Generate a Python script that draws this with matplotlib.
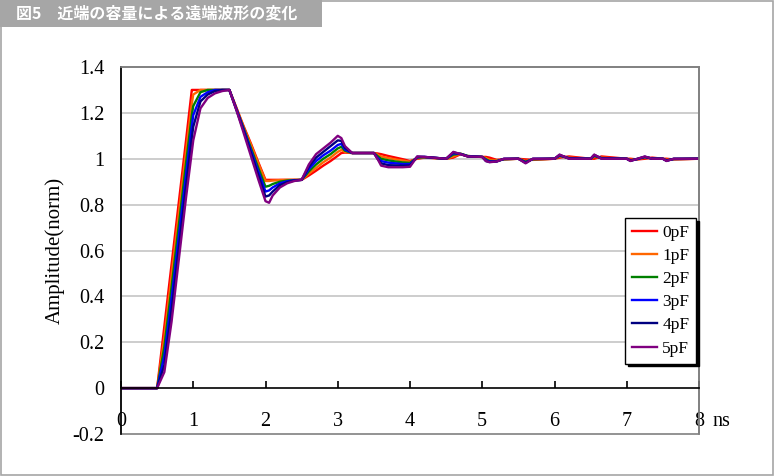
import matplotlib
matplotlib.use("Agg")
import matplotlib.pyplot as plt
from matplotlib.patches import Rectangle

# time axis (ns), shared by all series
t_ns = [0, 0.5, 0.6, 0.7, 0.8, 0.9, 0.98, 1.0, 1.1, 1.2,
        1.3, 1.4, 1.5, 1.6, 1.7, 1.8, 1.9, 2.0, 2.05, 2.1,
        2.2, 2.3, 2.4, 2.5, 2.6, 2.7, 2.8, 2.9, 3.0, 3.05,
        3.1, 3.2, 3.5, 3.55, 3.6, 3.7, 3.8, 3.9, 4.0, 4.1,
        4.2, 4.5, 4.6, 4.7, 4.8, 5.0, 5.05, 5.1, 5.2, 5.3,
        5.5, 5.6, 5.7, 6.0, 6.07, 6.2, 6.5, 6.55, 6.65, 7.0,
        7.05, 7.15, 7.25, 7.35, 7.5, 7.55, 7.65, 8.0]

amp_0pf = [0, 0, 0.27, 0.54, 0.81, 1.08, 1.30, 1.30, 1.30, 1.30,
           1.30, 1.30, 1.30, 1.22, 1.14, 1.065, 0.985, 0.908, 0.908, 0.908,
           0.908, 0.908, 0.908, 0.908, 0.927, 0.948, 0.97, 0.99, 1.013, 1.025,
           1.027, 1.025, 1.025, 1.023, 1.02, 1.012, 1.005, 0.998, 0.99, 1.0,
           1.005, 1.0, 1.005, 1.02, 1.01, 1.008, 1.008, 1.005, 0.995, 0.997,
           1.0, 0.997, 0.995, 1.0, 1.005, 1.01, 1.0, 1.0, 1.01, 1.0,
           1.0, 0.997, 1.0, 1.005, 1.0, 1.0, 0.997, 1.0]
amp_1pf = [0, 0, 0.22, 0.49, 0.76, 1.03, 1.24, 1.28, 1.30, 1.30,
           1.30, 1.30, 1.30, 1.22, 1.135, 1.06, 0.98, 0.903, 0.903, 0.905,
           0.907, 0.908, 0.908, 0.908, 0.935, 0.96, 0.985, 1.005, 1.03, 1.038,
           1.03, 1.025, 1.025, 1.018, 1.01, 1.003, 0.997, 0.992, 0.987, 1.002,
           1.006, 1.0, 1.01, 1.022, 1.012, 1.008, 1.003, 0.995, 0.993, 0.998,
           1.0, 0.99, 0.997, 1.0, 1.01, 1.005, 1.0, 1.008, 1.005, 1.0,
           0.995, 0.998, 1.005, 1.002, 1.0, 0.995, 0.998, 1.0]
amp_2pf = [0, 0, 0.18, 0.44, 0.71, 0.98, 1.19, 1.23, 1.29, 1.30,
           1.30, 1.30, 1.30, 1.215, 1.13, 1.045, 0.96, 0.878, 0.882, 0.89,
           0.90, 0.905, 0.907, 0.908, 0.945, 0.975, 1.0, 1.02, 1.045, 1.052,
           1.035, 1.025, 1.025, 1.012, 1.0, 0.993, 0.988, 0.984, 0.982, 1.005,
           1.007, 1.0, 1.018, 1.022, 1.012, 1.008, 0.998, 0.99, 0.99, 0.998,
           1.0, 0.987, 0.998, 1.0, 1.013, 1.003, 1.0, 1.012, 1.003, 1.0,
           0.993, 0.999, 1.007, 1.001, 1.0, 0.993, 0.999, 1.0]
amp_3pf = [0, 0, 0.14, 0.39, 0.66, 0.93, 1.14, 1.19, 1.27, 1.29,
           1.30, 1.30, 1.30, 1.215, 1.125, 1.035, 0.945, 0.857, 0.862, 0.875,
           0.893, 0.902, 0.906, 0.908, 0.955, 0.99, 1.015, 1.035, 1.06, 1.065,
           1.04, 1.025, 1.025, 1.005, 0.99, 0.983, 0.98, 0.977, 0.977, 1.007,
           1.008, 1.0, 1.024, 1.021, 1.011, 1.008, 0.994, 0.988, 0.989, 0.999,
           1.0, 0.984, 0.999, 1.0, 1.015, 1.002, 1.0, 1.015, 1.002, 1.0,
           0.992, 0.999, 1.008, 1.001, 1.0, 0.992, 0.999, 1.0]
amp_4pf = [0, 0, 0.10, 0.34, 0.61, 0.88, 1.09, 1.14, 1.25, 1.28,
           1.295, 1.30, 1.30, 1.21, 1.12, 1.025, 0.93, 0.835, 0.84, 0.857,
           0.885, 0.898, 0.905, 0.908, 0.965, 1.005, 1.03, 1.055, 1.08, 1.078,
           1.048, 1.025, 1.025, 1.0, 0.98, 0.972, 0.971, 0.97, 0.971, 1.009,
           1.008, 1.0, 1.028, 1.02, 1.01, 1.008, 0.99, 0.986, 0.988, 1.0,
           1.0, 0.982, 1.0, 1.0, 1.017, 1.001, 1.0, 1.017, 1.001, 1.0,
           0.991, 1.0, 1.009, 1.0, 1.0, 0.991, 1.0, 1.0]
amp_5pf = [0, 0, 0.07, 0.29, 0.56, 0.83, 1.03, 1.08, 1.22, 1.265,
           1.285, 1.295, 1.30, 1.21, 1.11, 1.01, 0.91, 0.815, 0.808, 0.84,
           0.875, 0.893, 0.903, 0.908, 0.975, 1.02, 1.045, 1.07, 1.10, 1.09,
           1.055, 1.025, 1.025, 1.0, 0.97, 0.963, 0.963, 0.963, 0.965, 1.01,
           1.008, 1.0, 1.03, 1.02, 1.01, 1.008, 0.99, 0.985, 0.988, 1.0,
           1.0, 0.98, 1.0, 1.0, 1.018, 1.0, 1.0, 1.018, 1.0, 1.0,
           0.99, 1.0, 1.01, 1.0, 1.0, 0.99, 1.0, 1.0]

series_labels = ["0pF", "1pF", "2pF", "3pF", "4pF", "5pF"]
series_values = [amp_0pf, amp_1pf, amp_2pf, amp_3pf, amp_4pf, amp_5pf]
series_colors = ["#ff0000", "#ff6600", "#008000", "#0000ff", "#000080", "#800080"]

x_ticks = [0, 1, 2, 3, 4, 5, 6, 7, 8]
y_ticks = [-0.2, 0, 0.2, 0.4, 0.6, 0.8, 1.0, 1.2, 1.4]
y_tick_labels = ["-0.2", "0", "0.2", "0.4", "0.6", "0.8", "1", "1.2", "1.4"]

title = "図5　近端の容量による遠端波形の変化"

serif = ["Liberation Serif", "DejaVu Serif"]

fig = plt.figure(figsize=(7.74, 4.76), dpi=100)
fig.patch.set_facecolor("white")

# outer frame and title band
fig.patches.append(Rectangle((0.0015, 0.002), 0.997, 0.996, transform=fig.transFigure,
                             fill=False, edgecolor="#a6a6a6", lw=1.2))
fig.patches.append(Rectangle((0, 1 - 27 / 476), 322 / 774, 27 / 476, transform=fig.transFigure,
                             facecolor="#a6a6a6", edgecolor="none"))
fig.text(16 / 774, 1 - 13.5 / 476, title, color="white", fontsize=11.5, fontweight="bold",
         family=["Noto Sans CJK JP", "DejaVu Sans"], va="center", ha="left")

ax = fig.add_axes([121 / 774, 1 - 434 / 476, 578 / 774, 367 / 476])

# x axis line sits at y=0; set this before styling ticks (it resets them)
ax.spines["bottom"].set_position(("data", 0))

for label, vals, color in zip(series_labels, series_values, series_colors):
    ax.plot(t_ns, vals, color=color, lw=1.7, label=label, solid_joinstyle="round")

ax.set_xlim(0, 8)
ax.set_ylim(-0.2, 1.4)

ax.set_yticks(y_ticks)
ax.set_yticklabels(y_tick_labels)
ax.set_xticks(x_ticks)
ax.set_xticklabels([str(v) for v in x_ticks])
for lab in ax.get_xticklabels() + ax.get_yticklabels():
    lab.set_family(serif)
    lab.set_fontsize(14.5)
ax.tick_params(axis="y", length=0, pad=12)
ax.tick_params(axis="x", direction="in", length=5, width=1.2, pad=17)

for yv in [0.2, 0.4, 0.6, 0.8, 1.0, 1.2]:
    ax.axhline(yv, color="#c0c0c0", lw=1.1, zorder=0)

# plot area border grey, left axis black
for side in ["top", "right"]:
    ax.spines[side].set_color("#808080")
    ax.spines[side].set_linewidth(1.2)
ax.spines["bottom"].set_linewidth(1.2)
ax.spines["left"].set_linewidth(1.2)
ax.add_patch(Rectangle((0, 0), 1, 1, transform=ax.transAxes, fill=False,
                       edgecolor="#808080", lw=1.2, zorder=0.5, clip_on=False))

fig.text(55 / 774, 1 - 250.5 / 476, "Amplitude(norm)", rotation=90, family=serif,
         fontsize=15, ha="center", va="center")
fig.text(712 / 774, 1 - 422 / 476, "ns", family=serif, fontsize=14.5, ha="left", va="center")

leg = ax.legend(loc="upper left", bbox_to_anchor=((625 - 121) / 578, (434 - 218) / 367),
                borderaxespad=0, fancybox=False, shadow={"color": "black", "alpha": 1},
                edgecolor="black", framealpha=1, prop={"family": serif, "size": 12.5},
                handlelength=1.45, handletextpad=0.3, labelspacing=0.4, borderpad=0.4)
leg.get_frame().set_linewidth(1.0)

fig.savefig("out.png", dpi=100)
